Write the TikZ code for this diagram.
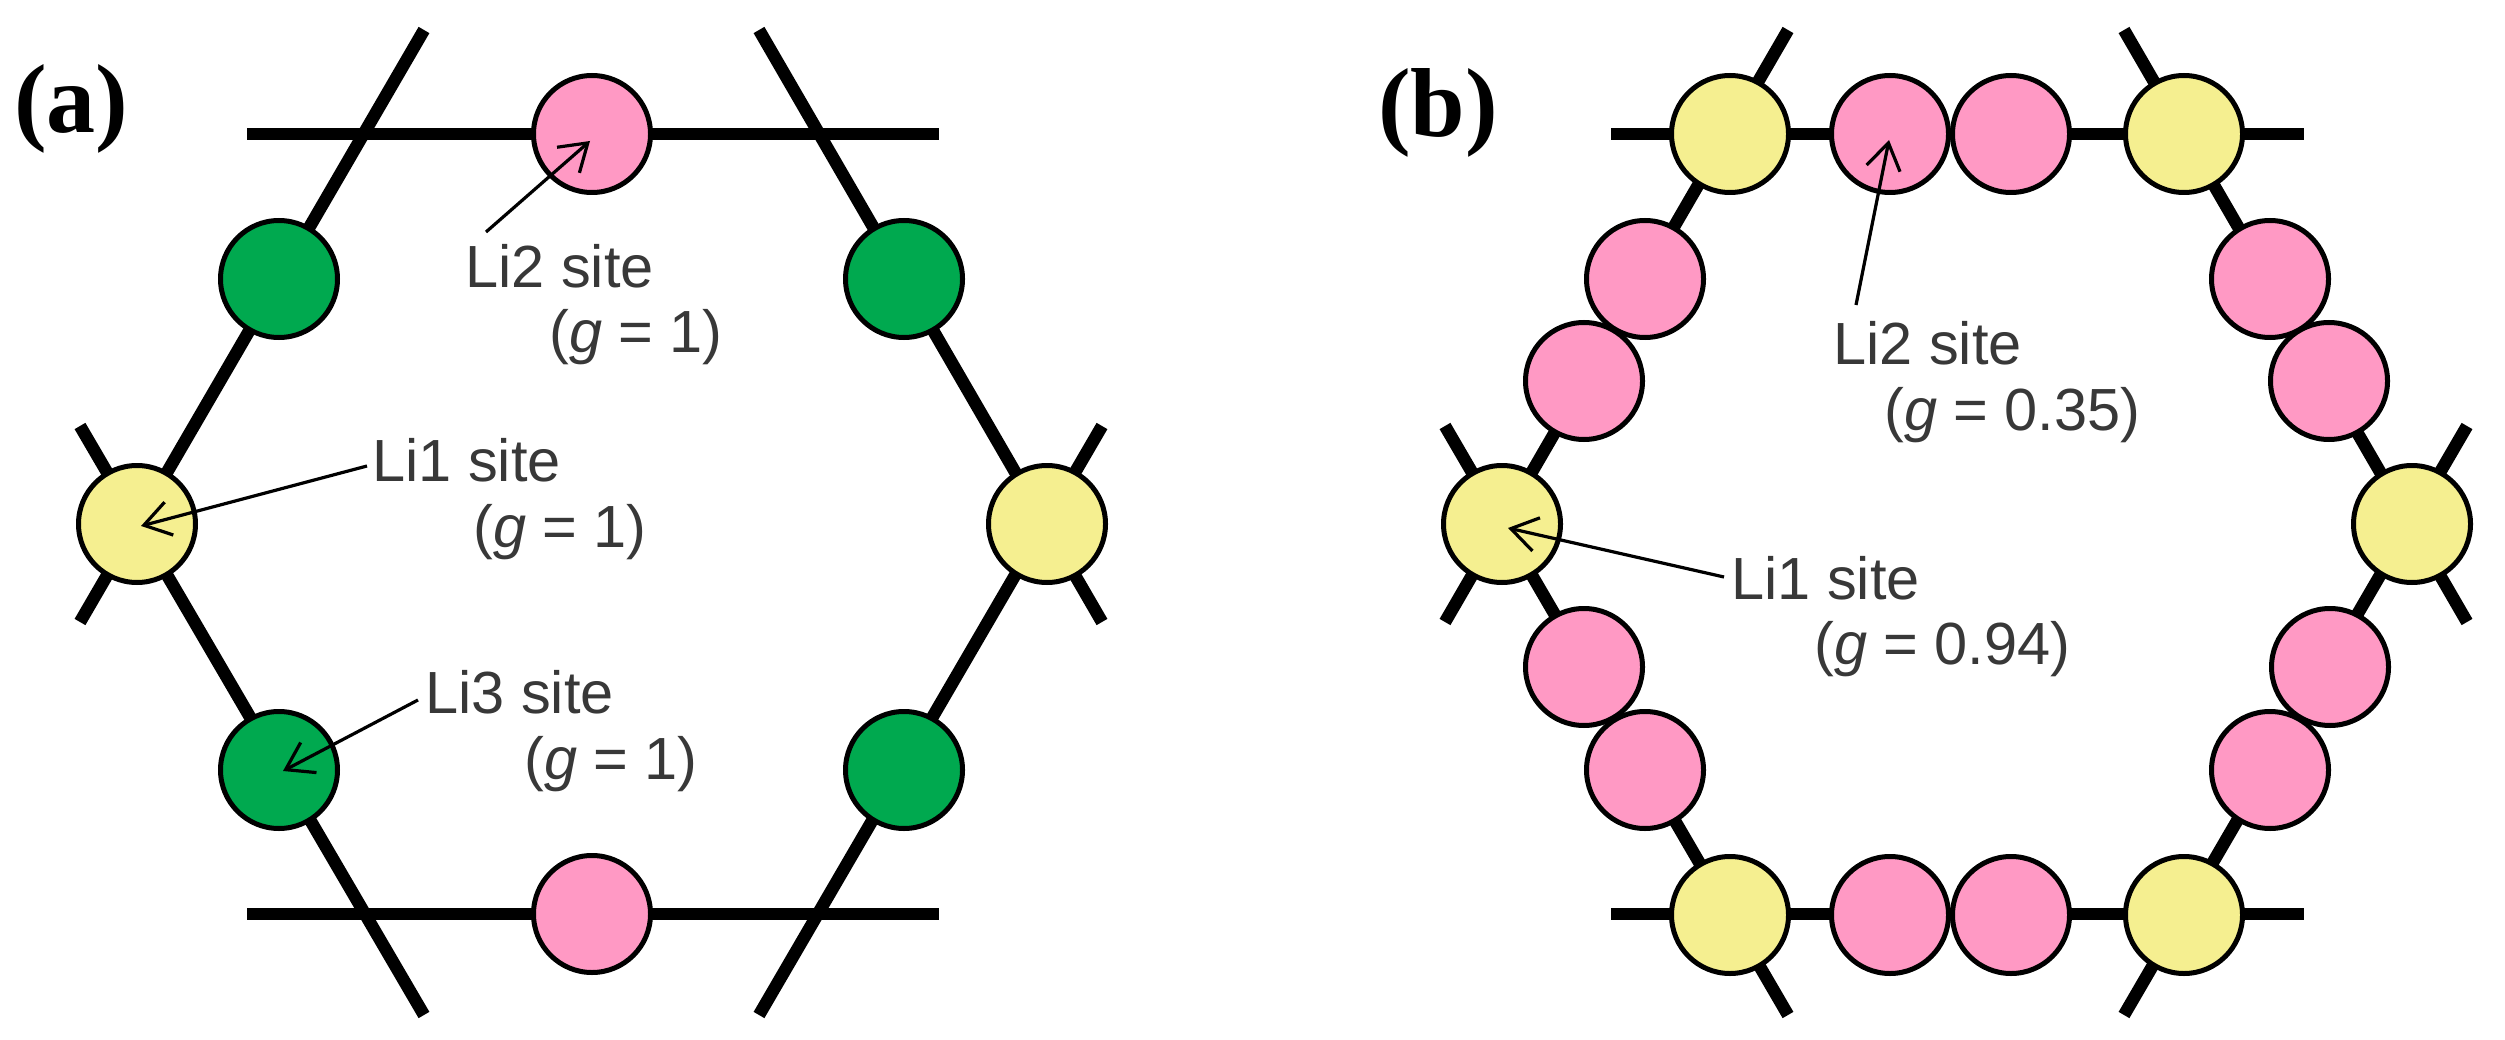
\documentclass[tikz,border=0pt]{standalone}
\usepackage{fontspec}
\setmainfont{Liberation Sans}
\newfontfamily\panelfont{Liberation Serif}
\usetikzlibrary{arrows.meta}
\definecolor{sitepink}{HTML}{FF99C4}
\definecolor{sitegreen}{HTML}{00A94F}
\definecolor{siteyellow}{HTML}{F5EF90}
\definecolor{labelgray}{HTML}{383838}
\tikzset{
  x=1pt,y=-1pt,
  bond/.style={draw=black,line width=12.5pt},
  site/.style={circle,draw=black,line width=5pt,minimum size=117pt,inner sep=0pt},
  pinksite/.style={site,fill=sitepink},
  greensite/.style={site,fill=sitegreen},
  yellowsite/.style={site,fill=siteyellow},
  lab/.style={anchor=base west,inner sep=0pt,text=labelgray,font=\fontsize{59.5}{70}\selectfont},
  panel/.style={anchor=base west,inner sep=0pt,text=black,font=\panelfont\bfseries\fontsize{98}{105}\selectfont},
  pointer/.style={draw=black,line width=3.2pt,-{Straight Barb[length=26pt,width=34pt,line width=3.2pt]}}
}
\begin{document}
\begin{tikzpicture}
\useasboundingbox (0,0) rectangle (2505,1040);
% panel (a) skeleton
\coordinate (aT1) at (247,134); \coordinate (aT2) at (939,134);
\coordinate (aB1) at (247,914); \coordinate (aB2) at (939,914);
\coordinate (aL1) at (424,30);  \coordinate (aL2) at (80,622);
\coordinate (aL3) at (80,426);  \coordinate (aL4) at (424,1015);
\coordinate (aR1) at (759,30);  \coordinate (aR2) at (1102,622);
\coordinate (aR3) at (1102,426);\coordinate (aR4) at (759,1015);
\draw[bond] (aT1) -- (aT2);
\draw[bond] (aB1) -- (aB2);
\draw[bond] (aL1) -- (aL2);
\draw[bond] (aL3) -- (aL4);
\draw[bond] (aR1) -- (aR2);
\draw[bond] (aR3) -- (aR4);
% panel (a) sites
\node[pinksite] (aP1) at (592,134) {};
\node[pinksite] (aP2) at (592,914) {};
\node[greensite] (aG1) at (279,279) {};
\node[greensite] (aG2) at (904,279) {};
\node[greensite] (aG3) at (279,770) {};
\node[greensite] (aG4) at (904,770) {};
\node[yellowsite] (aY1) at (137,524) {};
\node[yellowsite] (aY2) at (1047,524) {};
% panel (a) labels
\node[panel] (pa) at (14,133) {(a)};
\node[lab] (aLi2) at (465,288) {Li2 site};
\node[lab] (aLi2g) at (549,353) {(\textit{g} = 1)};
\node[lab] (aLi1) at (372,481) {Li1 site};
\node[lab] (aLi1g) at (473,547) {(\textit{g} = 1)};
\node[lab] (aLi3) at (425,713) {Li3 site};
\node[lab] (aLi3g) at (524,779) {(\textit{g} = 1)};
% panel (a) pointers
\coordinate (aA2s) at (486,232); \coordinate (aA2e) at (590,141);
\coordinate (aA1s) at (367,466); \coordinate (aA1e) at (141,526);
\coordinate (aA3s) at (418,700); \coordinate (aA3e) at (283,771);
\draw[pointer] (aA2s) -- (aA2e);
\draw[pointer] (aA1s) -- (aA1e);
\draw[pointer] (aA3s) -- (aA3e);
% panel (b) skeleton
\coordinate (bT1) at (1611,134); \coordinate (bT2) at (2304,134);
\coordinate (bB1) at (1611,914); \coordinate (bB2) at (2304,914);
\coordinate (bL1) at (1788,30);  \coordinate (bL2) at (1445,622);
\coordinate (bL3) at (1445,426); \coordinate (bL4) at (1788,1015);
\coordinate (bR1) at (2124,30);  \coordinate (bR2) at (2467,622);
\coordinate (bR3) at (2467,426); \coordinate (bR4) at (2124,1015);
\draw[bond] (bT1) -- (bT2);
\draw[bond] (bB1) -- (bB2);
\draw[bond] (bL1) -- (bL2);
\draw[bond] (bL3) -- (bL4);
\draw[bond] (bR1) -- (bR2);
\draw[bond] (bR3) -- (bR4);
% panel (b) sites
\node[yellowsite] (bY1) at (1730,134) {};
\node[yellowsite] (bY2) at (2184,134) {};
\node[yellowsite] (bY3) at (1730,915) {};
\node[yellowsite] (bY4) at (2184,915) {};
\node[yellowsite] (bY5) at (1502,524) {};
\node[yellowsite] (bY6) at (2412,524) {};
\node[pinksite] (bP1) at (1890,134) {};
\node[pinksite] (bP2) at (2011,134) {};
\node[pinksite] (bP3) at (1890,915) {};
\node[pinksite] (bP4) at (2011,915) {};
\node[pinksite] (bP5) at (1645,279) {};
\node[pinksite] (bP6) at (1584,381) {};
\node[pinksite] (bP7) at (1584,667) {};
\node[pinksite] (bP8) at (1645,770) {};
\node[pinksite] (bP9) at (2270,279) {};
\node[pinksite] (bP10) at (2329,381) {};
\node[pinksite] (bP11) at (2330,667) {};
\node[pinksite] (bP12) at (2270,770) {};
% panel (b) labels
\node[panel] (pb) at (1378,137) {(b)};
\node[lab] (bLi2) at (1833,364) {Li2 site};
\node[lab] (bLi2g) at (1884,430) {(\textit{g} = 0.35)};
\node[lab] (bLi1) at (1731,599) {Li1 site};
\node[lab] (bLi1g) at (1814,664) {(\textit{g} = 0.94)};
% panel (b) pointers
\coordinate (bA2s) at (1856,305); \coordinate (bA2e) at (1889,140);
\coordinate (bA1s) at (1724,577); \coordinate (bA1e) at (1508,528);
\draw[pointer] (bA2s) -- (bA2e);
\draw[pointer] (bA1s) -- (bA1e);
\end{tikzpicture}
\end{document}
